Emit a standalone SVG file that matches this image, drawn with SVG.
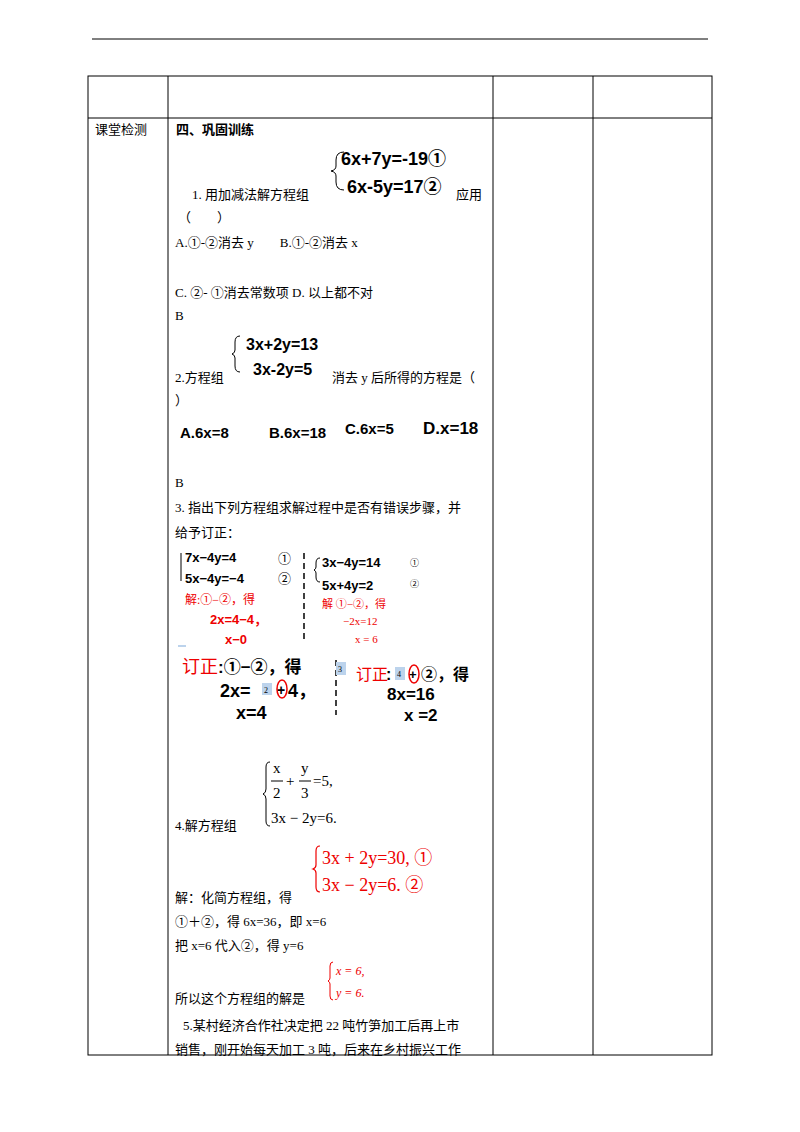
<svg xmlns="http://www.w3.org/2000/svg" width="800" height="1132" viewBox="0 0 800 1132">
<style>
.t{font-family:"Liberation Serif","Noto Sans CJK SC",serif;font-size:13px;fill:#000}
.b{font-family:"Liberation Sans","Noto Sans CJK SC",sans-serif;font-weight:bold;font-size:15px;fill:#000}
.r{font-family:"Liberation Serif","Noto Sans CJK SC",serif;fill:#e00}
.rb{font-family:"Liberation Sans","Noto Sans CJK SC",sans-serif;font-weight:bold;fill:#e00}
.l{stroke:#000;stroke-width:1;fill:none}
.hl{fill:#bcd3ec}
</style>
<rect width="800" height="1132" fill="#fff"/>
<g id="table">
<line class="l" x1="92" y1="39" x2="708" y2="39" stroke-width="1.5"/>
<rect class="l" x="88" y="76" width="624" height="979"/>
<line class="l" x1="88" y1="118" x2="712" y2="118"/>
<line class="l" x1="168" y1="76" x2="168" y2="1055"/>
<line class="l" x1="493" y1="76" x2="493" y2="1055"/>
<line class="l" x1="593" y1="76" x2="593" y2="1055"/>
</g>
<text class="t" x="95" y="134">课堂检测</text>
<text class="t" x="176" y="134" style="font-weight:bold;font-family:'Noto Sans CJK SC',sans-serif">四、巩固训练</text>
<g id="q1">
<path class="l" d="M344 152 q-8 0 -8 8 v6 q0 4 -5 5 q5 1 5 5 v6 q0 8 8 8" stroke-width="1.2"/>
<text class="b" x="341" y="165" style="font-size:18px">6x+7y=-19①</text>
<text class="b" x="347" y="193" style="font-size:18px">6x-5y=17②</text>
<text class="t" x="192" y="199">1.  用加减法解方程组</text>
<text class="t" x="456" y="199">应用</text>
<text class="t" x="178" y="222">（　　）</text>
<text class="t" x="175" y="247">A.①-②消去 y　　B.①-②消去 x</text>
<text class="t" x="175" y="297">C.  ②- ①消去常数项   D.  以上都不对</text>
<text class="t" x="175" y="320">B</text>
</g>
<g id="q2">
<path class="l" d="M240 336 q-5 0 -5 6 v8 q0 3 -3 4 q3 1 3 4 v8 q0 6 5 6" stroke-width="2"/>
<text class="b" x="246" y="350" style="font-size:16px">3x+2y=13</text>
<text class="b" x="253" y="375" style="font-size:16px">3x-2y=5</text>
<text class="t" x="175" y="382">2.方程组</text>
<text class="t" x="332" y="382">消去 y 后所得的方程是（</text>
<text class="t" x="175" y="405">）</text>
<text class="b" x="180" y="438">A.6x=8</text>
<text class="b" x="269" y="438">B.6x=18</text>
<text class="b" x="345" y="434">C.6x=5</text>
<text class="b" x="423" y="434" style="font-size:17px">D.x=18</text>
<text class="t" x="175" y="487">B</text>
<text class="t" x="175" y="512">3. 指出下列方程组求解过程中是否有错误步骤，并</text>
<text class="t" x="175" y="537">给予订正：</text>
</g>
<g id="q3">
<path class="l" d="M181 553 v28" stroke-width="1.2"/>
<text class="b" x="185" y="562" style="font-size:13px">7x−4y=4</text>
<text class="t" x="278" y="563">①</text>
<text class="b" x="185" y="583" style="font-size:13px">5x−4y=−4</text>
<text class="t" x="278" y="583">②</text>
<text class="r" x="185" y="604" style="font-size:12px">解:①−②，得</text>
<text class="rb" x="210" y="624" style="font-size:13px">2x=4−4，</text>
<text class="rb" x="225" y="644" style="font-size:13px">x−0</text>
<line x1="304" y1="553" x2="304" y2="642" stroke="#000" stroke-width="1.5" stroke-dasharray="6,4"/>
<path class="l" d="M320 558 q-4 0 -4 5 v4 q0 2 -2 3 q2 1 2 3 v4 q0 5 4 5" stroke-width="1.2"/>
<text class="b" x="322" y="567" style="font-size:13px">3x−4y=14</text>
<text class="t" x="410" y="566" style="font-size:9px">①</text>
<text class="b" x="322" y="590" style="font-size:13px">5x+4y=2</text>
<text class="t" x="410" y="587" style="font-size:9px">②</text>
<text class="r" x="322" y="608" style="font-size:11px">解  ①−②，得</text>
<text class="r" x="343" y="625" style="font-size:11px">−2x=12</text>
<text class="r" x="355" y="643" style="font-size:11px">x  =   6</text>
<rect x="178" y="645" width="8" height="2" fill="#bcd3ec"/>
<text class="r" x="182" y="673" style="font-size:18px">订正</text>
<text class="b" x="218" y="673" style="font-size:17px">:①−②，得</text>
<text class="b" x="220" y="697" style="font-size:18px">2x=</text>
<rect class="hl" x="262" y="683" width="10" height="12"/>
<text class="t" x="264" y="693" style="font-size:8px">2</text>
<ellipse cx="282" cy="689" rx="5" ry="9" fill="none" stroke="#e00" stroke-width="1.5"/>
<text class="b" x="277" y="695" style="font-size:14px">+</text>
<text class="b" x="288" y="697" style="font-size:18px">4，</text>
<text class="b" x="236" y="719" style="font-size:18px">x=4</text>
<line x1="336" y1="660" x2="336" y2="715" stroke="#000" stroke-width="1.5" stroke-dasharray="6,4"/>
<rect class="hl" x="336" y="662" width="10" height="13"/>
<text class="t" x="338" y="672" style="font-size:8px">3</text>
<text class="r" x="356" y="680" style="font-size:16px">订正</text>
<text class="b" x="386" y="680" style="font-size:16px">:</text>
<rect class="hl" x="395" y="667" width="10" height="13"/>
<text class="t" x="397" y="677" style="font-size:8px">4</text>
<ellipse cx="414" cy="674" rx="5" ry="9" fill="none" stroke="#e00" stroke-width="1.5"/>
<text class="b" x="409" y="679" style="font-size:13px">+</text>
<text class="b" x="421" y="680" style="font-size:16px">②，得</text>
<text class="b" x="387" y="700" style="font-size:17px">8x=16</text>
<text class="b" x="404" y="721" style="font-size:17px">x =2</text>
</g>
<g id="q4">
<path class="l" d="M270 762 q-4 0 -4 5 v22 q0 4 -3 5 q3 1 3 5 v22 q0 5 4 5" stroke-width="1"/>
<text class="t" x="273" y="773" style="font-size:15px">x</text>
<line class="l" x1="271" y1="781" x2="283" y2="781"/>
<text class="t" x="273" y="798" style="font-size:15px">2</text>
<text class="t" x="286" y="786" style="font-size:15px">+</text>
<text class="t" x="301" y="773" style="font-size:15px">y</text>
<line class="l" x1="299" y1="781" x2="311" y2="781"/>
<text class="t" x="301" y="798" style="font-size:15px">3</text>
<text class="t" x="313" y="786" style="font-size:15px">=5,</text>
<text class="t" x="271" y="823" style="font-size:15px">3x − 2y=6.</text>
<text class="t" x="175" y="830">4.解方程组</text>
<path d="M320 846 q-4 0 -4 5 v14 q0 3 -3 4 q3 1 3 4 v14 q0 5 4 5" stroke="#e00" stroke-width="1.2" fill="none"/>
<text class="r" x="322" y="864" style="font-size:18px">3x + 2y=30,  ①</text>
<text class="r" x="322" y="891" style="font-size:18px">3x − 2y=6.    ②</text>
<text class="t" x="175" y="902">解：化简方程组，得</text>
<text class="t" x="175" y="926">①＋②，得 6x=36，即 x=6</text>
<text class="t" x="175" y="950">把 x=6 代入②，得 y=6</text>
<path d="M333 962 q-3 0 -3 4 v12 q0 2 -2 3 q2 1 2 3 v12 q0 4 3 4" stroke="#e00" stroke-width="1" fill="none"/>
<text class="r" x="336" y="975" style="font-size:12px;font-style:italic">x = 6,</text>
<text class="r" x="336" y="997" style="font-size:12px;font-style:italic">y = 6.</text>
<text class="t" x="175" y="1003">所以这个方程组的解是</text>
<text class="t" x="183" y="1030">5.某村经济合作社决定把 22 吨竹笋加工后再上市</text>
<text class="t" x="175" y="1054">销售，刚开始每天加工 3 吨，后来在乡村振兴工作</text>
</g>
</svg>
